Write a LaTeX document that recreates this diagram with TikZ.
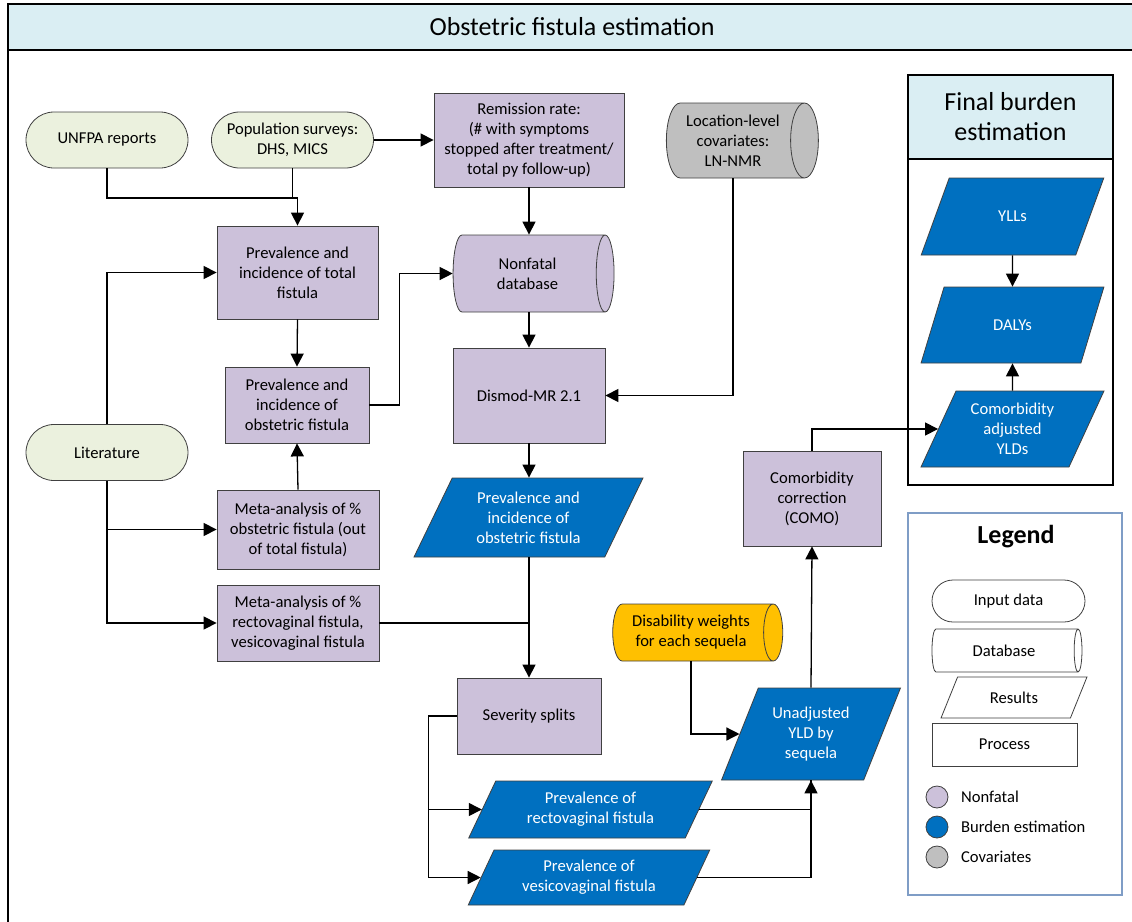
\documentclass[tikz,border=0pt]{standalone}
\usepackage{fontspec}
\setmainfont{Carlito}
\usepackage{tikz}
\usetikzlibrary{positioning, shapes.geometric, arrows.meta}
\definecolor{FistulaLilac}{HTML}{CCC1DA}
\definecolor{FistulaGreen}{HTML}{EBF1DE}
\definecolor{FistulaBlue}{HTML}{0070C0}
\definecolor{FistulaGray}{HTML}{BFBFBF}
\definecolor{FistulaOrange}{HTML}{FFC000}
\definecolor{FistulaHeader}{HTML}{DAEEF3}
\definecolor{FistulaEdge}{HTML}{404040}
\definecolor{FistulaLegend}{HTML}{7F9DC6}

\begin{document}
\begin{tikzpicture}[x=0.5pt, y=-0.5pt,
  font=\fontsize{8.3}{10}\selectfont,
  inputbox/.style={draw=FistulaEdge, fill=FistulaGreen, rounded corners=14pt, minimum width=81pt, minimum height=28pt, align=center, inner sep=1pt},
  procbox/.style={draw=FistulaEdge, fill=FistulaLilac, align=center, inner sep=1pt},
  dbbox/.style={cylinder, draw=FistulaEdge, aspect=0.5, align=center, inner sep=1pt},
  resultbox/.style={trapezium, trapezium left angle=64, trapezium right angle=116, trapezium stretches=true, draw=FistulaEdge, fill=FistulaBlue, text=white, align=center, inner sep=1pt},
  flow/.style={line width=0.65pt, -{Triangle[width=6.5pt,length=6.5pt]}},
  link/.style={line width=0.65pt},
  keydot/.style={circle, draw=FistulaEdge, minimum size=11pt, inner sep=0pt},
  keytext/.style={anchor=west}
]
  \clip (0,0) rectangle (1132,922);

  % Frame & title
  \draw[line width=0.6pt] (8,4) rectangle (1140,930);
  \draw[line width=0.6pt, fill=FistulaHeader] (8,4) rectangle (1140,50);
  \node[font=\fontsize{13}{15}\selectfont] (title) at (572,27) {Obstetric fistula estimation};

  % Final burden panel
  \draw[line width=0.6pt, fill=white] (908,75) rectangle (1113,485);
  \draw[line width=0.6pt, fill=FistulaHeader] (908,75) rectangle (1113,159);
  \node[font=\fontsize{13}{15}\selectfont, align=center] (finaltitle) at (1010.5,117) {Final burden\\estimation};

  % Legend panel
  \draw[line width=0.8pt, draw=FistulaLegend, fill=white] (908,513) rectangle (1122,895);
  \node[font=\fontsize{13}{15}\selectfont\bfseries] (legendtitle) at (1016,537) {Legend};

  % Inputs
  \node[inputbox] (unfpa) at (107,140) {UNFPA reports};
  \node[inputbox] (surveys) at (292.5,140) {Population surveys:\\DHS, MICS};
  \node[inputbox] (literature) at (107,452.5) {Literature};

  % Processes
  \node[procbox, minimum width=95pt, minimum height=47pt] (remission) at (529,140) {Remission rate:\\(\# with symptoms\\stopped after treatment/\\total py follow-up)};
  \node[procbox, minimum width=80.5pt, minimum height=46.5pt] (prevtotal) at (297.5,272.5) {Prevalence and\\incidence of total\\fistula};
  \node[procbox, minimum width=72pt, minimum height=38pt] (prevobst) at (297,405) {Prevalence and\\incidence of\\obstetric fistula};
  \node[procbox, minimum width=76pt, minimum height=47.5pt] (dismod) at (529,395.5) {Dismod-MR 2.1};
  \node[procbox, minimum width=81pt, minimum height=39.5pt] (metaobst) at (298,529.5) {Meta-analysis of \%\\obstetric fistula (out\\of total fistula)};
  \node[procbox, minimum width=81pt, minimum height=38pt] (metarecto) at (298,623) {Meta-analysis of \%\\rectovaginal fistula,\\vesicovaginal fistula};
  \node[procbox, minimum width=69pt, minimum height=47.5pt] (como) at (812,498.5) {Comorbidity\\correction\\(COMO)};
  \node[procbox, minimum width=72pt, minimum height=38pt] (severity) at (529,716) {Severity splits};

  % Databases (cylinder: height = length, width = diameter)
  \node[dbbox, fill=FistulaGray, minimum height=76pt, minimum width=37.5pt] (covariates) at (733,140.5) {Location-level\\covariates:\\LN-NMR};
  \node[dbbox, fill=FistulaLilac, minimum height=80.5pt, minimum width=38.5pt] (nonfataldb) at (527.5,273.5) {Nonfatal\\database};
  \node[dbbox, fill=FistulaOrange, minimum height=85pt, minimum width=28.5pt] (weights) at (691,632.5) {Disability weights\\for each sequela};

  % Results
  \node[resultbox, minimum width=114.5pt, minimum height=39.5pt] (prevresult) at (528.5,517.5) {Prevalence and\\incidence of\\obstetric fistula};
  \node[resultbox, minimum width=90pt, minimum height=46pt] (unadjusted) at (811,734) {Unadjusted\\YLD by\\sequela};
  \node[resultbox, minimum width=122.5pt, minimum height=28.5pt] (prevrecto) at (590.5,809.5) {Prevalence of\\rectovaginal fistula};
  \node[resultbox, minimum width=121pt, minimum height=27.5pt] (prevvesico) at (589,877.5) {Prevalence of\\vesicovaginal fistula};
  \node[resultbox, minimum width=91.5pt, minimum height=38.5pt] (ylls) at (1012.5,216.5) {YLLs};
  \node[resultbox, minimum width=91.5pt, minimum height=38pt] (dalys) at (1012.5,325) {DALYs};
  \node[resultbox, minimum width=91.5pt, minimum height=38pt] (comoadj) at (1012.5,429) {Comorbidity\\adjusted\\YLDs};

  % Connectors
  \coordinate (surveyjoin) at (297.5,198);
  \draw[link] (unfpa.south) |- (surveyjoin);
  \draw[flow] (surveys.south) |- (surveyjoin) -- (prevtotal.north);
  \draw[flow] (surveys.east) -- (remission.west);
  \draw[flow] (remission.south) -- (remission.south |- nonfataldb.north);
  \draw[flow] (covariates.south) |- (dismod.east);
  \draw[flow] (literature.north) |- (prevtotal.west);
  \draw[flow] (literature.south) |- (metaobst.west);
  \draw[flow] (literature.south) |- (metarecto.west);
  \draw[flow] (prevtotal.south) -- (prevobst.north);
  \draw[flow] (metaobst.north) -- (prevobst.south);
  \draw[flow] (prevobst.east) -- ++(30,0) |- (nonfataldb.west);
  \draw[flow] (nonfataldb.south -| dismod.north) -- (dismod.north);
  \draw[flow] (dismod.south) -- (dismod.south |- prevresult.north);
  \draw[flow] (prevresult.south -| severity.north) -- (severity.north);
  \draw[link] (metarecto.east) -- (metarecto.east -| severity.north);
  \draw[flow] (severity.west) -- ++(-28,0) |- (prevrecto.west);
  \draw[flow] (severity.west) -- ++(-28,0) |- (prevvesico.west);
  \draw[link] (prevrecto.east) -| (unadjusted.south);
  \draw[flow] (prevvesico.east) -| (unadjusted.south);
  \draw[flow] (weights.south) |- (unadjusted.west);
  \draw[flow] (unadjusted.north) -- (como.south);
  \draw[flow] (como.north) |- (comoadj.west);
  \draw[flow] (ylls.south) -- (dalys.north);
  \draw[flow] (comoadj.north) -- (dalys.south);

  % Legend entries
  \node[inputbox, fill=white, rounded corners=10.5pt, minimum width=76.5pt, minimum height=21pt] (keyinput) at (1008.5,601) {Input data};
  \node[dbbox, fill=white, minimum height=75pt, minimum width=21.5pt] (keydb) at (1004,650.5) {Database};
  \node[resultbox, fill=white, text=black, minimum width=73pt, minimum height=20.5pt] (keyresult) at (1014,697.5) {Results};
  \node[procbox, fill=white, minimum width=72.5pt, minimum height=21.5pt] (keyprocess) at (1004.5,744.5) {Process};
  \node[keydot, fill=FistulaLilac] (dotnonfatal) at (937,797) {};
  \node[keydot, fill=FistulaBlue] (dotburden) at (937,827) {};
  \node[keydot, fill=FistulaGray] (dotcovariates) at (937,857) {};
  \node[keytext] (txtnonfatal) at (954,797) {Nonfatal};
  \node[keytext] (txtburden) at (954,827) {Burden estimation};
  \node[keytext] (txtcovariates) at (954,857) {Covariates};
\end{tikzpicture}
\end{document}
